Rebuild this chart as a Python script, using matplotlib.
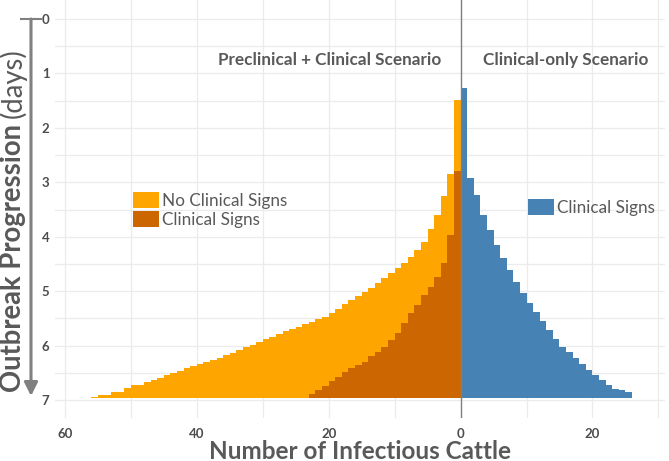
import matplotlib.pyplot as plt
import numpy as np
from matplotlib.patches import Patch
from matplotlib.lines import Line2D

plt.rcParams['font.family'] = ['Lato', 'DejaVu Sans']

# day at which each count level is reached (step curves), bars end at day 6.97
pre_total_days = [1.48, 2.85, 3.26, 3.60, 3.85, 4.09, 4.24, 4.37, 4.49, 4.58,
                  4.67, 4.75, 4.85, 4.94, 5.02, 5.09, 5.16, 5.24, 5.32, 5.40,
                  5.47, 5.52, 5.57, 5.61, 5.65, 5.69, 5.74, 5.79, 5.84, 5.88,
                  5.93, 5.98, 6.03, 6.08, 6.13, 6.18, 6.22, 6.26, 6.30, 6.34,
                  6.38, 6.42, 6.46, 6.50, 6.54, 6.59, 6.63, 6.67, 6.72, 6.77,
                  6.85, 6.90, 6.94]
pre_total_counts = list(range(1, 49)) + [50, 51, 53, 55, 56]

pre_clinical_days = [2.80, 3.97, 4.49, 4.74, 4.92, 5.07, 5.25, 5.41, 5.59, 5.77,
                     5.90, 6.02, 6.11, 6.20, 6.30, 6.36, 6.42, 6.48, 6.57, 6.65,
                     6.74, 6.81, 6.88]
pre_clinical_counts = list(range(1, 24))

clin_only_days = [1.27, 2.92, 3.23, 3.60, 3.88, 4.15, 4.39, 4.61, 4.84, 5.03,
                  5.22, 5.38, 5.55, 5.71, 5.87, 6.02, 6.11, 6.23, 6.33, 6.45,
                  6.54, 6.63, 6.72, 6.79, 6.82, 6.85]
clin_only_counts = list(range(1, 27))

end_day = 6.97

x_ticks = [-60, -40, -20, 0, 20]
x_ticklabels = ['60', '40', '20', '0', '20']
y_ticks = list(range(0, 8))

c_noclin = '#FFA500'
c_clin = '#CC6600'
c_blue = '#4682B4'
c_text = '#595959'


def step_fill(ax, days, counts, sign, color, zorder):
    y = np.append(days, end_day)
    x = np.append(counts, counts[-1]) * sign
    ax.fill_betweenx(y, 0, x, step='post', color=color, linewidth=0, zorder=zorder)


fig = plt.figure(figsize=(6.69, 4.61), dpi=100)
ax = fig.add_axes([55 / 669, 1 - 418 / 461, 610 / 669, 418 / 461])

step_fill(ax, pre_total_days, pre_total_counts, -1, c_noclin, 2)
step_fill(ax, pre_clinical_days, pre_clinical_counts, -1, c_clin, 3)
step_fill(ax, clin_only_days, clin_only_counts, 1, c_blue, 2)
ax.axvline(0, color='#808080', lw=1, zorder=4)

ax.set_xlim(-61.5, 31)
ax.set_ylim(7.33, -0.35)
ax.set_xticks(x_ticks)
ax.set_xticklabels(x_ticklabels)
ax.set_xticks([-50, -30, -10, 10, 30], minor=True)
ax.set_yticks(y_ticks)
ax.set_yticks(np.arange(0.5, 7, 1.0), minor=True)
ax.grid(which='both', color='#ebebeb', lw=0.9)
ax.set_axisbelow(True)
for s in ax.spines.values():
    s.set_visible(False)
ax.tick_params(which='both', length=0)
ax.tick_params(axis='x', pad=7, labelsize=9.5, labelcolor='#4d4d4d')
ax.tick_params(axis='y', pad=4, labelsize=9.5, labelcolor='#4d4d4d')
for lab in ax.get_xticklabels() + ax.get_yticklabels():
    lab.set_fontweight('bold')

ax.text(-19.8, 0.75, 'Preclinical + Clinical Scenario', ha='center', va='center',
        fontsize=12.3, fontweight='bold', color=c_text)
ax.text(16, 0.75, 'Clinical-only Scenario', ha='center', va='center',
        fontsize=12.3, fontweight='bold', color=c_text)

leg1 = ax.legend(handles=[Patch(facecolor=c_noclin), Patch(facecolor=c_clin)],
                 labels=['No Clinical Signs', 'Clinical Signs'],
                 loc='upper left', bbox_to_anchor=((133 - 55) / 610, 1 - 192 / 418),
                 frameon=False, fontsize=12.3, handlelength=1.55, handleheight=1.1,
                 handletextpad=0.15, labelspacing=0.1, borderpad=0, borderaxespad=0,
                 labelcolor=c_text)
ax.add_artist(leg1)
ax.legend(handles=[Patch(facecolor=c_blue)], labels=['Clinical Signs'],
          loc='upper left', bbox_to_anchor=((528 - 55) / 610, 1 - 199 / 418),
          frameon=False, fontsize=12.3, handlelength=1.55, handleheight=1.1,
          handletextpad=0.15, borderpad=0, borderaxespad=0, labelcolor=c_text)

fig.text(360 / 669, 1 - 451 / 461, 'Number of Infectious Cattle', ha='center', va='center',
         fontsize=17.5, fontweight='bold', color=c_text)

# y label: bold part, then "(days)" placed right after it
t1 = fig.text(13 / 669, 1 - 392 / 461, 'Outbreak Progression', rotation=90,
              rotation_mode='anchor', ha='left', va='center', fontsize=19.8,
              fontweight='bold', color=c_text)
fig.canvas.draw()
top_px = t1.get_window_extent().y1
fig.text(13 / 669, (top_px + 6) / 461, '(days)', rotation=90, rotation_mode='anchor',
         ha='left', va='center', fontsize=19.8, color=c_text)

ax.annotate('', xy=(31 / 669, 1 - 396 / 461), xytext=(31 / 669, 1 - 19 / 461),
            xycoords='figure fraction', textcoords='figure fraction',
            arrowprops=dict(arrowstyle='-|>', color='#808080', lw=2.2, mutation_scale=20,
                            shrinkA=0, shrinkB=0))
fig.add_artist(Line2D([21 / 669, 41 / 669], [1 - 19 / 461, 1 - 19 / 461],
                      transform=fig.transFigure, color='#808080', lw=1.5))

fig.savefig('out.png', dpi=100)
plt.close('all')
